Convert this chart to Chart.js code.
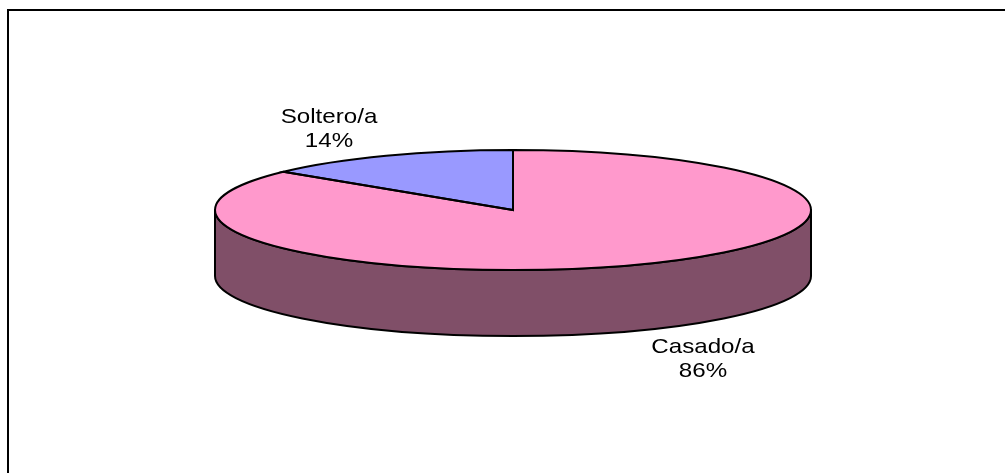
<!DOCTYPE html>
<html>
<head>
<meta charset="utf-8">
<script src="https://cdn.jsdelivr.net/npm/chart.js@4"></script>
<style>
    body { margin: 0; background: #fff; }
    #wrap { position: relative; width: 1005px; height: 473px; overflow: hidden; }
    #frame {
        position: absolute; left: 7px; top: 9px; width: 1010px; height: 480px;
        border-left: 2px solid #000; border-top: 2px solid #000; pointer-events: none;
    }
    canvas { position: absolute; left: 0; top: 0; }
</style>
</head>
<body>
<div id="wrap">
    <canvas id="pieChart" width="1005" height="473"></canvas>
    <div id="frame"></div>
</div>
<script>
// data
const categories = ['Casado/a', 'Soltero/a'];
const values = [86, 14];

// styles
const topColors = ['#FF99CC', '#9999FF'];
const sideColors = ['#804F68', '#4D4D80'];

// ellipse layout of the flattened pie
const CX = 513, CY = 210, RX = 298, RY = 60, DEPTH = 66;
// label anchors (baseline of first line)
const labelPos = [[703, 353], [329, 123]];

function frontRange(s, e) {
    // visible side = angles between 0 and PI (canvas coords)
    const ranges = [];
    for (let k = -1; k <= 1; k++) {
        const lo = Math.max(s, k * 2 * Math.PI);
        const hi = Math.min(e, k * 2 * Math.PI + Math.PI);
        if (hi > lo) ranges.push([lo, hi]);
    }
    return ranges;
}

const pie3d = {
    id: 'pie3d',
    beforeDatasetsDraw(chart) {
        const ctx = chart.ctx;
        const arcs = chart.getDatasetMeta(0).data;
        // side walls first
        arcs.forEach((arc, i) => {
            frontRange(arc.startAngle, arc.endAngle).forEach(([a0, a1]) => {
                ctx.beginPath();
                ctx.moveTo(CX + RX * Math.cos(a0), CY + RY * Math.sin(a0));
                ctx.ellipse(CX, CY, RX, RY, 0, a0, a1, false);
                ctx.lineTo(CX + RX * Math.cos(a1), CY + DEPTH + RY * Math.sin(a1));
                ctx.ellipse(CX, CY + DEPTH, RX, RY, 0, a1, a0, true);
                ctx.closePath();
                ctx.fillStyle = sideColors[i];
                ctx.fill();
                ctx.lineWidth = 2;
                ctx.strokeStyle = '#000';
                ctx.lineJoin = 'round';
                ctx.stroke();
            });
        });
        // squash the pie into the top ellipse
        const a = arcs[0];
        const r = a.outerRadius;
        ctx.save();
        ctx.translate(CX, CY);
        ctx.scale(RX / r, RY / r);
        ctx.translate(-a.x, -a.y);
    },
    afterDatasetsDraw(chart) {
        const ctx = chart.ctx;
        ctx.restore();
        const arcs = chart.getDatasetMeta(0).data;
        arcs.forEach(arc => {
            ctx.beginPath();
            ctx.moveTo(CX, CY);
            ctx.ellipse(CX, CY, RX, RY, 0, arc.startAngle, arc.endAngle, false);
            ctx.closePath();
            ctx.lineWidth = 2;
            ctx.strokeStyle = '#000';
            ctx.lineJoin = 'miter';
            ctx.stroke();
        });

        // labels
        const total = values.reduce((s, v) => s + v, 0);
        ctx.save();
        ctx.fillStyle = '#000';
        ctx.font = '21px "Liberation Sans", Arial, sans-serif';
        ctx.textAlign = 'center';
        ctx.textBaseline = 'alphabetic';
        categories.forEach((name, i) => {
            const [x, y] = labelPos[i];
            const pct = Math.round(values[i] / total * 100) + '%';
            ctx.save();
            ctx.translate(x, y);
            ctx.scale(1.15, 1);
            ctx.fillText(name, 0, 0);
            ctx.fillText(pct, 0, 23.5);
            ctx.restore();
        });
        ctx.restore();
    }
};

new Chart(document.getElementById('pieChart').getContext('2d'), {
    type: 'pie',
    data: {
        labels: categories,
        datasets: [{
            data: values,
            backgroundColor: topColors,
            borderWidth: 0,
            clip: false
        }]
    },
    options: {
        responsive: false,
        devicePixelRatio: 1,
        animation: false,
        layout: { padding: 20 },
        plugins: {
            legend: { display: false },
            tooltip: { enabled: false }
        }
    },
    plugins: [pie3d]
});
</script>
</body>
</html>
